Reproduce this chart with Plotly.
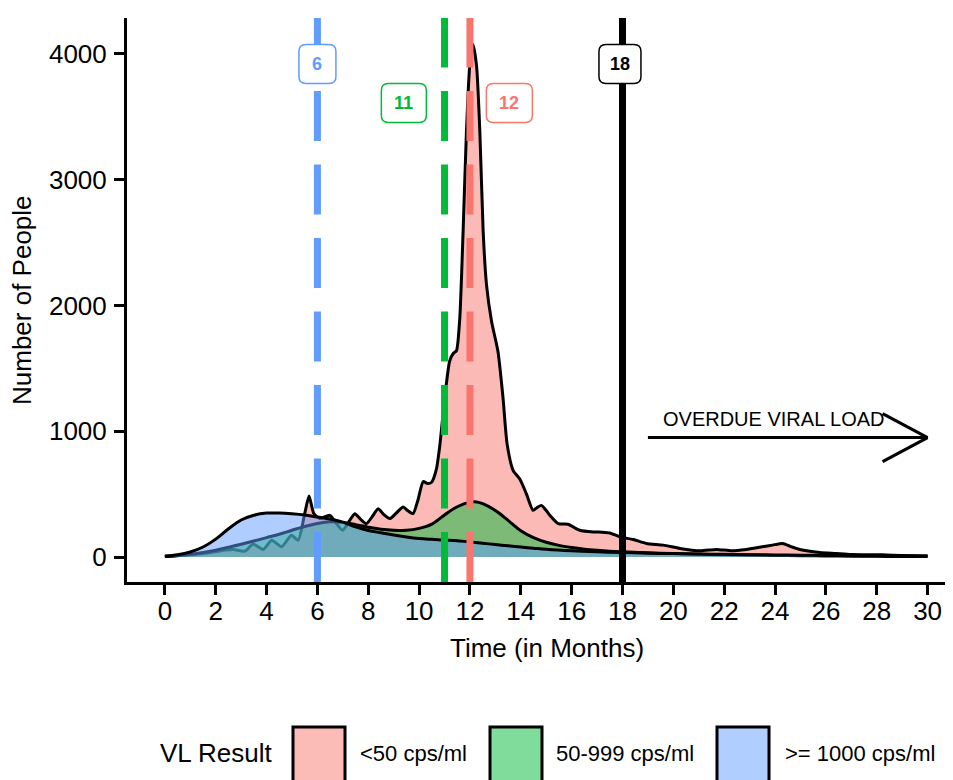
import plotly.graph_objects as go

# ---------------- data ----------------
red_x = [0.0, 0.5, 1.0, 1.5, 2.0, 2.4, 2.7, 3.15, 3.47, 3.87, 4.2, 4.59, 4.98, 5.24, 5.5, 5.67,
         5.86, 6.1, 6.49, 6.75, 6.99, 7.27, 7.47, 7.7, 7.93, 8.15, 8.39, 8.6, 8.85, 9.1, 9.37,
         9.55, 9.76, 9.95, 10.16, 10.33, 10.49, 10.68, 10.81, 11.0, 11.2, 11.35, 11.47, 11.6,
         11.73, 11.86, 11.99, 12.12, 12.26, 12.39, 12.52, 12.65, 12.85, 13.1, 13.3, 13.46, 13.7,
         13.96, 14.22, 14.48, 14.65, 14.81, 15.0, 15.14, 15.47, 15.86, 16.1, 16.32, 16.84, 17.2,
         17.5, 17.9, 18.42, 18.94, 19.6, 20.25, 21.04, 21.7, 22.3, 22.87, 23.5, 23.9, 24.3, 24.6,
         24.97, 25.76, 26.4, 27.0, 28.2, 29.0, 30.0]
red_y = [4, 10, 18, 28, 42, 56, 60, 47, 103, 61, 134, 82, 174, 134, 345, 485,
         345, 306, 332, 266, 213, 292, 345, 300, 266, 320, 385, 340, 306, 350, 398,
         370, 345, 450, 600, 585, 595, 700, 880, 1250, 1557, 1620, 1640, 1900,
         2585, 3375, 3903, 4075, 3903, 3375, 2585, 2166, 1873, 1636, 1267, 900, 688,
         620, 503, 372, 395, 411, 370, 332, 266, 261, 235, 213, 200, 198,
         192, 160, 140, 108, 95, 69, 50, 61, 50, 61, 82, 95, 108, 85,
         61, 37, 29, 21, 18, 12, 8]

green_x = [0, 0.5, 1, 1.5, 2, 2.5, 3, 3.5, 4, 4.5, 5, 5.5, 6, 6.5, 7, 7.5, 8, 8.5, 9, 9.5,
           10, 10.5, 11, 11.5, 12, 12.2, 12.5, 13, 13.5, 14, 14.5, 15, 15.5, 16, 16.5, 17,
           17.5, 18, 19, 20, 21, 22, 23, 24, 25, 26, 27, 28, 29, 30]
green_y = [5, 12, 22, 36, 55, 78, 102, 128, 155, 182, 213, 243, 267, 280, 276, 258, 237, 222,
           214, 213, 228, 262, 335, 400, 437, 440, 425, 370, 292, 210, 155, 118, 93, 76, 63, 54,
           47, 42, 34, 28, 23, 19, 16, 13, 11, 9, 7, 6, 5, 4]

blue_x = [0, 0.5, 1, 1.5, 2, 2.5, 3, 3.5, 4, 4.5, 5, 5.5, 6, 6.5, 7, 7.5, 8, 8.5, 9, 9.5,
          10, 10.5, 11, 11.5, 12, 12.5, 13, 13.5, 14, 14.5, 15, 16, 17, 18, 19, 20, 21, 22,
          23, 24, 25, 26, 27, 28, 29, 30]
blue_y = [8, 18, 40, 80, 143, 225, 295, 333, 350, 350, 344, 334, 318, 303, 278, 240, 212, 193,
          175, 160, 148, 141, 135, 129, 120, 110, 100, 90, 80, 71, 62, 50, 42, 36, 31, 28, 25,
          22, 19, 17, 15, 13, 12, 10, 9, 8]

series_names = ["<50 cps/ml", "50-999 cps/ml", ">= 1000 cps/ml"]
legend_title = "VL Result"
x_ticks = list(range(0, 31, 2))
y_ticks = [0, 1000, 2000, 3000, 4000]

vline_x = [6, 11, 12, 18]
label_x = [6, 9.4, 13.55, 17.9]
label_y = [3920, 3610, 3610, 3920]
label_text = ["6", "11", "12", "18"]

arrow_x = [19, 30]
arrow_y = 950
arrow_text = "OVERDUE VIRAL LOAD"
arrow_text_pos = (23.95, 1100)

# ---------------- style ----------------
FONT = "Liberation Sans, Arial, sans-serif"
red_line, green_line, blue_line = "#F8766D", "#00BA38", "#619CFF"
fills = ["rgba(248,118,109,0.5)", "rgba(0,186,56,0.5)", "rgba(97,156,255,0.5)"]
legend_fills = ["#FBBBB6", "#80DC9B", "#B0CEFF"]

OFF = 8                      # page body margin
W, H = 953 - OFF, 780 - OFF
ML, MR, MT, MB = 127 - OFF, 0, 18 - OFF, 780 - 582
PW, PH = W - ML - MR, H - MT - MB


def sx(px):   # screen px -> paper x
    return (px - OFF - ML) / PW


def sy(py):   # screen py -> paper y
    return (H - MB - (py - OFF)) / PH


fig = go.Figure()
for xs, ys, fc, nm, sm in [(red_x, red_y, fills[0], series_names[0], 0.6),
                           (green_x, green_y, fills[1], series_names[1], 1.0),
                           (blue_x, blue_y, fills[2], series_names[2], 1.0)]:
    fig.add_trace(go.Scatter(x=xs, y=ys, mode="lines", fill="tozeroy", fillcolor=fc,
                             line=dict(color="black", width=3, shape="spline", smoothing=sm),
                             name=nm, showlegend=False, hoverinfo="skip"))

shapes = []
vcols = [blue_line, green_line, red_line, "black"]
for xv, c in zip(vline_x, vcols):
    shapes.append(dict(type="line", xref="x", yref="paper", x0=xv, x1=xv, y0=0, y1=1,
                       line=dict(color=c, width=7, dash="solid" if c == "black" else "50px,23.5px"),
                       layer="above"))


def rrect(w, h, r):
    a, b = w / 2, h / 2
    return (f"M {-a + r},{-b} L {a - r},{-b} Q {a},{-b} {a},{-b + r} L {a},{b - r} "
            f"Q {a},{b} {a - r},{b} L {-a + r},{b} Q {-a},{b} {-a},{b - r} L {-a},{-b + r} "
            f"Q {-a},{-b} {-a + r},{-b} Z")


box_w = [37, 45, 46, 42]
for lx, ly, t, c, bw in zip(label_x, label_y, label_text, vcols, box_w):
    shapes.append(dict(type="path", xref="x", yref="y", xsizemode="pixel", ysizemode="pixel",
                       xanchor=lx, yanchor=ly, path=rrect(bw, 39, 7), fillcolor="white",
                       line=dict(color=c, width=1.5), layer="above"))

# arrow
shapes.append(dict(type="line", xref="x", yref="y", x0=arrow_x[0], x1=arrow_x[1], y0=arrow_y, y1=arrow_y,
                   line=dict(color="black", width=3)))
for dy in (24, -24):
    shapes.append(dict(type="line", xref="x", yref="y", xsizemode="pixel", ysizemode="pixel",
                       xanchor=arrow_x[1], yanchor=arrow_y, x0=0, y0=0, x1=-45, y1=dy,
                       line=dict(color="black", width=3)))

# legend keys
key_left = [293, 490, 717]
for kl, kc in zip(key_left, legend_fills):
    shapes.append(dict(type="rect", xref="paper", yref="paper", x0=sx(kl), x1=sx(kl + 52),
                       y0=sy(727), y1=sy(800), fillcolor=kc, line=dict(color="black", width=3)))

annotations = []
for lx, ly, t, c in zip(label_x, label_y, label_text, vcols):
    annotations.append(dict(x=lx, y=ly, xref="x", yref="y", text=f"<b>{t}</b>", showarrow=False,
                            xanchor="center", yanchor="middle",
                            font=dict(family=FONT, size=18, color=c)))
annotations.append(dict(x=arrow_text_pos[0], y=arrow_text_pos[1], xref="x", yref="y", text=arrow_text,
                        showarrow=False, xanchor="center", yanchor="middle",
                        font=dict(family=FONT, size=20, color="black")))
annotations.append(dict(x=sx(22), y=sy(300), xref="paper", yref="paper", text="Number of People",
                        textangle=-90, showarrow=False, xanchor="center", yanchor="middle",
                        font=dict(family=FONT, size=26, color="black")))
annotations.append(dict(x=sx(547), y=sy(648), xref="paper", yref="paper", text="Time (in Months)",
                        showarrow=False, xanchor="center", yanchor="middle",
                        font=dict(family=FONT, size=26, color="black")))
annotations.append(dict(x=sx(158), y=sy(753), xref="paper", yref="paper", text=legend_title,
                        xanchor="left", yanchor="middle", showarrow=False,
                        font=dict(family=FONT, size=26, color="black")))
for tx, tt in zip([358, 554, 783], series_names):
    annotations.append(dict(x=sx(tx), y=sy(753), xref="paper", yref="paper", text=tt,
                            xanchor="left", yanchor="middle", showarrow=False,
                            font=dict(family=FONT, size=22, color="black")))

axis_common = dict(showgrid=False, zeroline=False, showline=True, linewidth=3, linecolor="black",
                   ticks="outside", ticklen=10, tickwidth=3, tickcolor="black",
                   tickfont=dict(family=FONT, size=26, color="black"))

fig.update_layout(
    width=W, height=H, margin=dict(l=ML, r=MR, t=MT, b=MB),
    paper_bgcolor="white", plot_bgcolor="white",
    xaxis=dict(range=[-1.49, 31.0], tickvals=x_ticks, ticklabelstandoff=-6, **axis_common),
    yaxis=dict(range=[-198, 4285], tickvals=y_ticks, ticklabelstandoff=2, **axis_common),
    shapes=shapes, annotations=annotations, showlegend=False,
)

fig.write_html("out.html")
